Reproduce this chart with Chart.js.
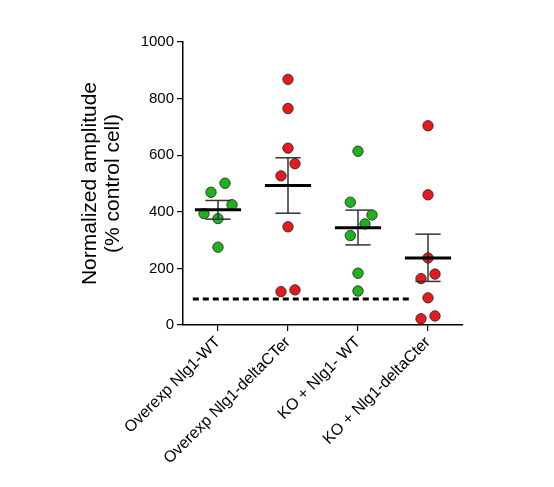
<!DOCTYPE html>
<html>
<head>
<meta charset="utf-8">
<script src="https://cdn.jsdelivr.net/npm/chart.js@4/dist/chart.umd.min.js"></script>
<style>
html,body{margin:0;padding:0;background:#fff;}
canvas{display:block;}
</style>
</head>
<body>
<canvas id="c" width="554" height="487" style="width:554px;height:487px"></canvas>
<script>
// ---- data ----
const groupLabels = ['Overexp Nlg1-WT', 'Overexp Nlg1-deltaCTer', 'KO + Nlg1- WT', 'KO + Nlg1-deltaCter'];
const groupColors = ['#1db31d', '#e8191c', '#1db31d', '#e8191c'];

const values1 = [469, 501, 394, 425, 376, 275];
const values2 = [868, 765, 625, 570, 527, 347, 118, 124];
const values3 = [614, 434, 389, 357, 316, 183, 120];
const values4 = [704, 460, 237, 180, 164, 96, 22, 32];

// horizontal scatter offsets of the dots (in category units)
const jitter1 = [-0.1, 0.1, -0.2, 0.2, 0, 0];
const jitter2 = [0, 0, 0, 0.1, -0.1, 0, -0.1, 0.1];
const jitter3 = [0, -0.11, 0.2, 0.1, -0.11, 0, 0];
const jitter4 = [0, 0, 0, 0.1, -0.1, 0, -0.1, 0.1];

const means = [407, 493, 344, 237];
const semUpper = [440, 591, 406, 321];
const semLower = [374, 395, 283, 154];

const thresholdValue = 92;
const thresholdFrom = 0.64;
const thresholdTo = 3.73;

const yTicks = [0, 200, 400, 600, 800, 1000];

// ---- build datasets ----
const allValues = [values1, values2, values3, values4];
const allJitter = [jitter1, jitter2, jitter3, jitter4];
const MEAN_HALF = 0.33, CAP_HALF = 0.18;

const datasets = [];
means.forEach((m, i) => {
  const x = i + 1;
  datasets.push({
    type: 'line', data: [{x: x - MEAN_HALF, y: m}, {x: x + MEAN_HALF, y: m}],
    borderColor: '#000', borderWidth: 3, pointRadius: 0, fill: false
  });
  datasets.push({
    type: 'line', data: [{x: x, y: semLower[i]}, {x: x, y: semUpper[i]}],
    borderColor: '#333', borderWidth: 1.5, pointRadius: 0, fill: false
  });
  datasets.push({
    type: 'line', data: [{x: x - CAP_HALF, y: semUpper[i]}, {x: x + CAP_HALF, y: semUpper[i]}],
    borderColor: '#333', borderWidth: 1.5, pointRadius: 0, fill: false
  });
  datasets.push({
    type: 'line', data: [{x: x - CAP_HALF, y: semLower[i]}, {x: x + CAP_HALF, y: semLower[i]}],
    borderColor: '#333', borderWidth: 1.5, pointRadius: 0, fill: false
  });
});
datasets.push({
  type: 'line', data: [{x: thresholdFrom, y: thresholdValue}, {x: thresholdTo, y: thresholdValue}],
  borderColor: '#000', borderWidth: 3, borderDash: [6, 4], pointRadius: 0, fill: false
});
allValues.forEach((vals, i) => {
  datasets.push({
    type: 'scatter',
    data: vals.map((v, k) => ({x: i + 1 + allJitter[i][k], y: v})),
    backgroundColor: groupColors[i],
    borderColor: 'rgba(40,40,40,0.85)',
    borderWidth: 1,
    pointRadius: 5.2,
    pointHoverRadius: 5.2
  });
});

new Chart(document.getElementById('c'), {
  type: 'scatter',
  data: {datasets},
  options: {
    responsive: false,
    animation: false,
    events: [],
    layout: {padding: {top: 42, right: 91, left: 0, bottom: 0}},
    plugins: {legend: {display: false}, tooltip: {enabled: false}},
    scales: {
      x: {
        type: 'linear', min: 0.5, max: 4.5,
        afterBuildTicks: (s) => { s.ticks = groupLabels.map((_, i) => ({value: i + 1})); },
        afterFit: (s) => { s.height = 162; },
        ticks: {
          autoSkip: false, maxRotation: 45, minRotation: 45, padding: 2,
          color: '#000', font: {family: 'Liberation Sans, Arial, sans-serif', size: 16},
          callback: (v) => groupLabels[v - 1]
        },
        grid: {display: true, drawOnChartArea: false, drawTicks: true, tickLength: 6, color: '#000', lineWidth: 1.2},
        border: {display: true, color: '#000', width: 1.5}
      },
      y: {
        min: 0, max: 1000,
        afterBuildTicks: (s) => { s.ticks = yTicks.map(v => ({value: v})); },
        afterFit: (s) => { s.width = 183; },
        ticks: {
          padding: 3, color: '#000', font: {family: 'Liberation Sans, Arial, sans-serif', size: 15},
          callback: (v) => String(v)
        },
        grid: {display: true, drawOnChartArea: false, drawTicks: true, tickLength: 6, color: '#000', lineWidth: 1.2},
        border: {display: true, color: '#000', width: 1.5},
        title: {
          display: true,
          text: ['Normalized amplitude', '(% control cell)'],
          color: '#000',
          font: {family: 'Liberation Sans, Arial, sans-serif', size: 21, lineHeight: 1.1},
          padding: {top: 79, bottom: 0}
        }
      }
    }
  }
});
</script>
</body>
</html>
